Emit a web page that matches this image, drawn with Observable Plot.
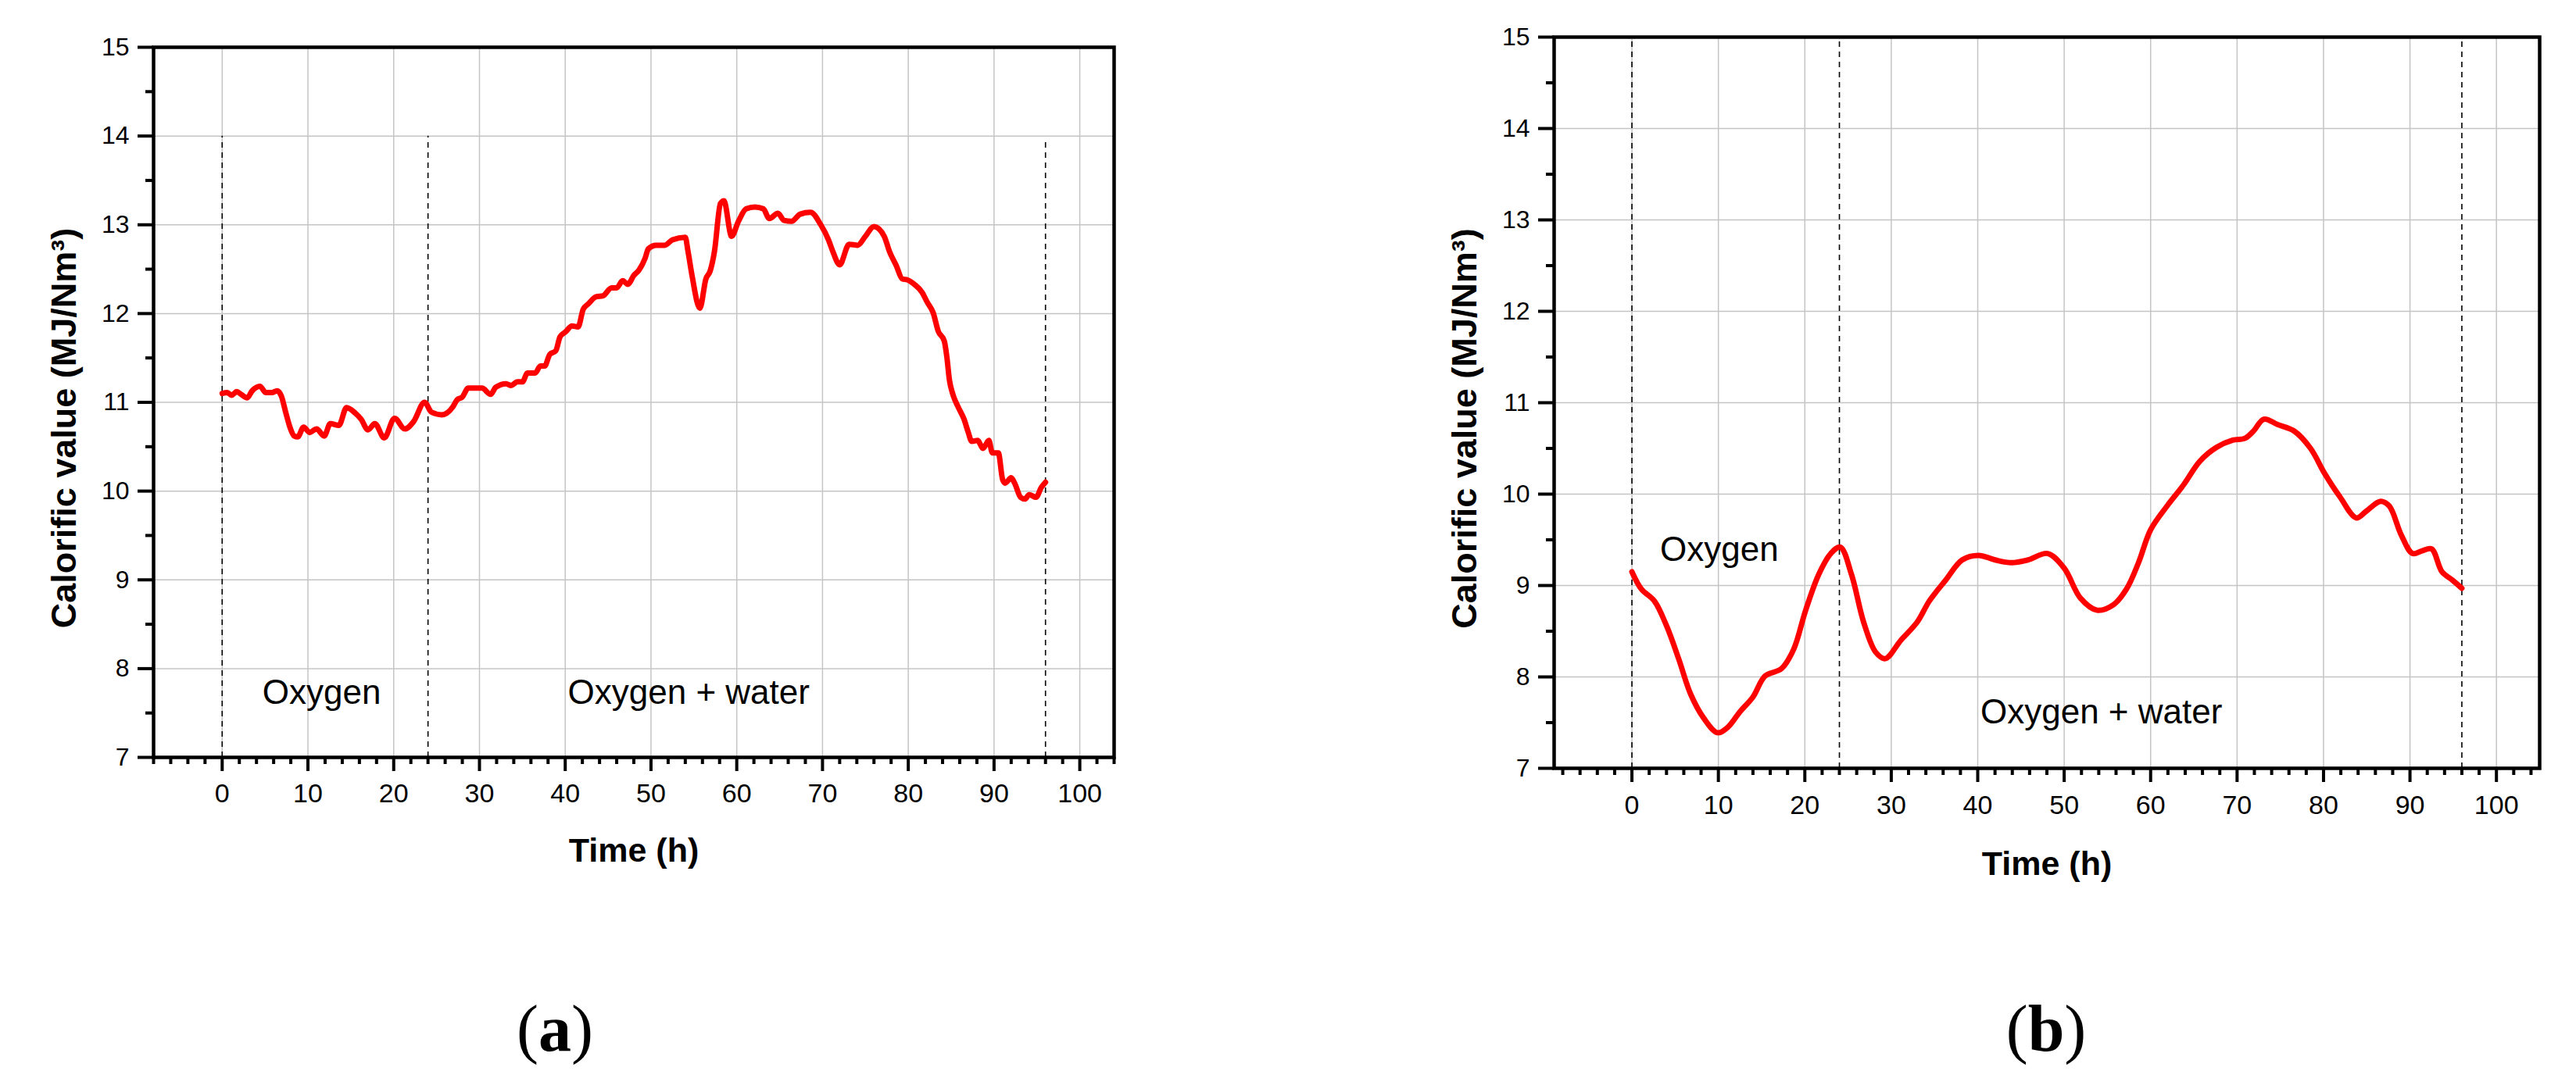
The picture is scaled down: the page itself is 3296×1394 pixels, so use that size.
<!DOCTYPE html>
<html><head><meta charset="utf-8">
<script src="https://cdn.jsdelivr.net/npm/d3@7"></script>
<script src="https://cdn.jsdelivr.net/npm/@observablehq/plot@0.6"></script>
<style>
html,body{margin:0;padding:0;background:#fff;}
#wrap{position:relative;width:3296px;height:1394px;background:#fff;overflow:hidden;}
.panel{position:absolute;top:0;}
.cap{position:absolute;top:1275px;font-family:"Liberation Serif","Times New Roman",serif;font-size:84px;line-height:84px;transform:translateX(-50%);white-space:nowrap;color:#000;}
</style></head><body>
<div id="wrap">
  <div id="pa" class="panel" style="left:0"></div>
  <div id="pb" class="panel" style="left:1648px"></div>
  <div class="cap" style="left:710px">(<b>a</b>)</div>
  <div class="cap" style="left:2618px">(<b>b</b>)</div>
</div>
<script>
// ---- data: panel (a) ----
const timeA = [0,0.6,1.1,1.7,2.2,2.9,3.5,4.4,5.1,5.8,6.4,6.9,7.4,7.9,8.4,8.8,9.5,10.2,11.0,11.9,12.6,13.6,14.5,15.5,16.2,17.0,17.8,18.9,20.1,21.3,22.3,23.6,24.4,25.6,26.9,27.4,28.0,28.7,30.3,31.3,31.9,33.1,33.7,34.4,35.0,35.6,36.5,37.1,37.6,38.2,38.9,39.4,40.0,40.8,41.5,42.1,42.7,43.6,44.4,45.4,46.0,46.7,47.3,48.0,48.6,49.3,49.7,50.6,51.6,52.5,54.0,54.3,54.8,55.7,56.4,56.9,57.4,58.1,58.5,59.4,60.2,61.1,62.1,63.1,63.8,64.8,65.5,66.4,67.4,68.6,69.8,70.7,71.2,72.0,73.1,74.1,75.0,76.0,77.2,77.8,78.6,79.3,79.9,80.7,81.6,82.2,82.9,83.5,84.2,84.5,84.8,85.2,85.8,86.5,87.0,87.4,88.1,88.7,89.4,89.8,90.5,91.0,91.3,92.0,92.4,93.1,93.6,94.1,94.9,95.5,96.0];
const valueA = [11.10,11.11,11.08,11.12,11.09,11.05,11.13,11.18,11.11,11.11,11.13,11.07,10.89,10.72,10.62,10.61,10.72,10.66,10.70,10.62,10.76,10.74,10.94,10.88,10.81,10.69,10.76,10.60,10.82,10.70,10.78,11.00,10.89,10.86,10.95,11.03,11.06,11.16,11.16,11.09,11.17,11.21,11.19,11.23,11.23,11.33,11.33,11.41,11.41,11.54,11.58,11.74,11.79,11.86,11.85,12.05,12.11,12.19,12.20,12.29,12.29,12.37,12.33,12.43,12.49,12.62,12.73,12.77,12.77,12.83,12.86,12.71,12.42,12.06,12.39,12.48,12.70,13.24,13.27,12.87,13.04,13.18,13.20,13.18,13.07,13.13,13.05,13.04,13.12,13.14,13.00,12.83,12.70,12.55,12.78,12.77,12.87,12.98,12.87,12.70,12.54,12.39,12.38,12.33,12.24,12.13,12.01,11.80,11.69,11.51,11.25,11.09,10.95,10.81,10.66,10.56,10.57,10.48,10.57,10.43,10.43,10.13,10.09,10.15,10.09,9.93,9.91,9.96,9.93,10.04,10.10];
const phaseXA = [0, 24, 96];
const phaseTopA = [14, 14, 13.93];
const noteTextA = ["Oxygen", "Oxygen + water"];
const noteXA = [11.6, 54.4];
const noteYA = [7.60, 7.60];

// ---- data: panel (b) ----
const timeB = [0,1.1,2.6,4.0,5.4,6.8,8.3,9.9,11.1,12.5,14.0,15.4,17.3,18.7,20.1,21.6,23.0,24.1,25.4,26.8,28.2,29.3,31.1,33.0,34.4,36.3,38.2,40.1,42.0,43.9,45.8,48.1,50.0,51.9,53.8,55.7,57.2,58.6,60.0,61.9,63.8,65.7,67.6,69.5,70.9,71.9,73.1,74.7,76.6,78.5,80.1,81.9,83.8,84.9,86.6,87.6,89.0,90.3,91.4,92.5,93.7,94.9,96.0];
const valueB = [9.15,8.96,8.83,8.56,8.20,7.81,7.55,7.39,7.45,7.62,7.78,8.01,8.09,8.30,8.73,9.12,9.35,9.42,9.12,8.60,8.27,8.20,8.40,8.60,8.83,9.06,9.28,9.33,9.28,9.25,9.28,9.35,9.19,8.86,8.73,8.79,8.96,9.25,9.61,9.87,10.10,10.36,10.51,10.59,10.61,10.69,10.82,10.76,10.69,10.50,10.23,9.97,9.74,9.81,9.92,9.87,9.55,9.35,9.38,9.40,9.15,9.06,8.97];
const phaseXB = [0, 24, 96];
const phaseTopB = [15, 15, 15];
const noteTextB = ["Oxygen", "Oxygen + water"];
const noteXB = [10.1, 54.3];
const noteYB = [9.27, 7.49];

// ---- ticks / labels ----
const majorX = [0,10,20,30,40,50,60,70,80,90,100];
const minorX = [-8,-6,-4,-2,2,4,6,8,12,14,16,18,22,24,26,28,32,34,36,38,42,44,46,48,52,54,56,58,62,64,66,68,72,74,76,78,82,84,86,88,92,94,96,98,102,104];
const majorY = [7,8,9,10,11,12,13,14,15];
const minorY = [7.5,8.5,9.5,10.5,11.5,12.5,13.5,14.5];
const yTitle = "Calorific value (MJ/Nm³)";
const xTitle = "Time (h)";

const FONT = '"Liberation Sans", Arial, Helvetica, sans-serif';

function chart(cfg) {
  const series = cfg.time.map((t, i) => ({t, v: cfg.value[i]}));
  const phases = cfg.phaseX.map((x, i) => ({x, y1: 7, y2: cfg.phaseTop[i]}));
  const notes = cfg.noteText.map((label, i) => ({label, x: cfg.noteX[i], y: cfg.noteY[i]}));
  return Plot.plot({
    width: 1648, height: 1200,
    marginLeft: cfg.m[0], marginRight: cfg.m[1], marginTop: cfg.m[2], marginBottom: cfg.m[3],
    x: {domain: cfg.xDomain},
    y: {domain: [7, 15]},
    style: {fontFamily: FONT, color: "#000", background: "transparent", overflow: "visible"},
    marks: [
      Plot.gridX({ticks: majorX, stroke: "#c4c4c4", strokeOpacity: 1, strokeWidth: 1.5}),
      Plot.gridY({ticks: majorY, stroke: "#c4c4c4", strokeOpacity: 1, strokeWidth: 1.5}),
      Plot.ruleX(phases, {x: "x", y1: "y1", y2: "y2", stroke: "#000", strokeWidth: 1.6, strokeDasharray: "7,6"}),
      Plot.line(series, {x: "t", y: "v", stroke: "#ff0000", strokeWidth: 7, curve: cfg.curve, strokeLinejoin: "round"}),
      Plot.text(notes, {x: "x", y: "y", text: "label", fontSize: 44, lineAnchor: "bottom", textAnchor: "middle", fill: "#000"}),
      Plot.frame({stroke: "#000", strokeWidth: 4.5}),
      Plot.axisX({ticks: minorX, tickSize: 9, tickFormat: () => "", strokeWidth: 4, label: null}),
      Plot.axisX({ticks: majorX, tickSize: 18, tickPadding: cfg.xPad, fontSize: 34, strokeWidth: 4, label: null}),
      Plot.axisY({ticks: minorY, tickSize: 10, tickFormat: () => "", strokeWidth: 4, label: null}),
      Plot.axisY({ticks: majorY, tickSize: 20, tickPadding: 11, fontSize: 32, strokeWidth: 4, label: null}),
      Plot.text([yTitle], {text: d => d, frameAnchor: "left", dx: -100, dy: 33, rotate: -90, textAnchor: "middle", lineAnchor: "bottom", fontSize: 45, fontWeight: "bold", fill: "#000"}),
      Plot.text([xTitle], {text: d => d, frameAnchor: "bottom", dy: cfg.titleDy, textAnchor: "middle", lineAnchor: "bottom", fontSize: 43, fontWeight: "bold", fill: "#000"})
    ]
  });
}

document.getElementById("pa").append(chart({
  time: timeA, value: valueA, phaseX: phaseXA, phaseTop: phaseTopA,
  noteText: noteTextA, noteX: noteXA, noteY: noteYA,
  xDomain: [-8, 104], m: [196, 223, 60, 231], xPad: 15, titleDy: 133, curve: "monotone-x"
}));
document.getElementById("pb").append(chart({
  time: timeB, value: valueB, phaseX: phaseXB, phaseTop: phaseTopB,
  noteText: noteTextB, noteX: noteXB, noteY: noteYB,
  xDomain: [-9, 105], m: [340, 47, 47, 217], xPad: 16, titleDy: 136, curve: "catmull-rom"
}));
</script>
</body></html>
